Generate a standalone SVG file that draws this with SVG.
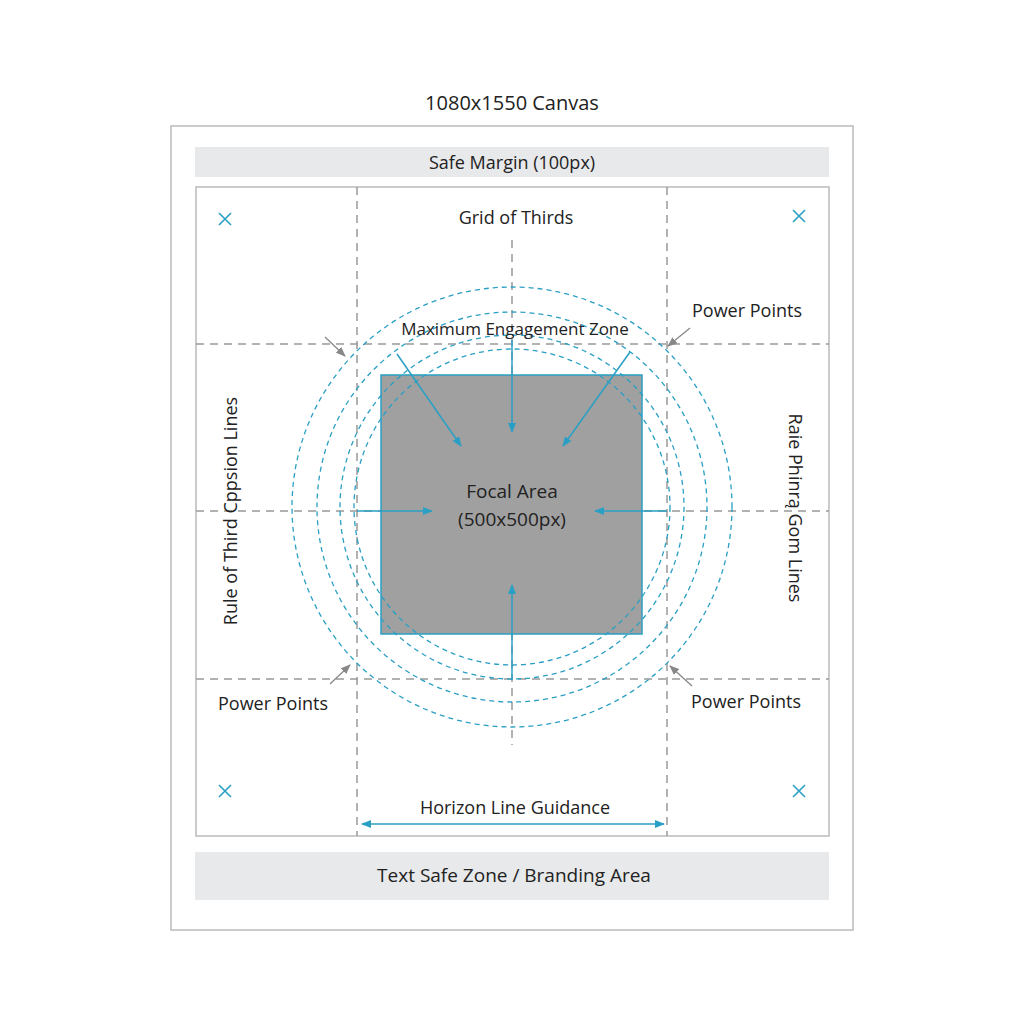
<svg xmlns="http://www.w3.org/2000/svg" width="1024" height="1024" viewBox="0 0 1024 1024">
<style>
text{font-family:"Open Sans","Noto Sans",sans-serif;fill:#222;text-anchor:middle}
.d{stroke:#999;stroke-width:1.5;stroke-dasharray:8 6;fill:none}
.c{stroke:#2a9fc4;stroke-width:1.3;stroke-dasharray:5 4;fill:none}
.b{stroke:#2a9fc4;stroke-width:1.5;fill:none;marker-end:url(#ab)}
.g{stroke:#888;stroke-width:1.3;fill:none;marker-end:url(#ag)}
.x{stroke:#2a9fc4;stroke-width:1.6}
</style>
<defs>
<marker id="ab" markerWidth="10" markerHeight="8" refX="9" refY="4" orient="auto" markerUnits="userSpaceOnUse"><path d="M0,0L10,4L0,8z" fill="#2a9fc4"/></marker>
<marker id="abs" markerWidth="10" markerHeight="8" refX="1" refY="4" orient="auto" markerUnits="userSpaceOnUse"><path d="M10,0L0,4L10,8z" fill="#2a9fc4"/></marker>
<marker id="ag" markerWidth="10" markerHeight="8" refX="9" refY="4" orient="auto" markerUnits="userSpaceOnUse"><path d="M0,0L10,4L0,8z" fill="#888"/></marker>
</defs>
<rect width="1024" height="1024" fill="#fff"/>
<text x="512" y="110" font-size="20">1080x1550 Canvas</text>
<g id="canvas"><rect x="171" y="126" width="682" height="804" fill="none" stroke="#bbb" stroke-width="1.5"/></g>
<g id="safe-margin"><rect x="195" y="147" width="634" height="30" fill="#e8e9ea"/><text x="512" y="169" font-size="18">Safe Margin (100px)</text></g>
<g id="inner"><rect x="196" y="187" width="633" height="649" fill="none" stroke="#bbb" stroke-width="1.5"/></g>
<g id="grid">
<line class="d" x1="357" y1="187" x2="357" y2="836"/><line class="d" x1="667" y1="187" x2="667" y2="836"/>
<line class="d" x1="196" y1="344" x2="829" y2="344"/><line class="d" x1="196" y1="511" x2="829" y2="511"/><line class="d" x1="196" y1="679" x2="829" y2="679"/>
<line class="d" x1="512" y1="240" x2="512" y2="745"/>
<text x="516" y="224" font-size="18">Grid of Thirds</text>
</g>
<g id="focal"><rect x="381" y="375" width="261" height="259" fill="#a0a0a0" stroke="#2a9fc4" stroke-width="1.5"/>
<text x="512" y="498" font-size="19">Focal Area</text><text x="512" y="526" font-size="19">(500x500px)</text></g>
<g id="zone">
<circle class="c" cx="512" cy="507" r="220"/><circle class="c" cx="512" cy="507" r="195"/><circle class="c" cx="512" cy="507" r="172"/><circle class="c" cx="512" cy="507" r="158"/>
<text x="515" y="335" font-size="17">Maximum Engagement Zone</text>
</g>
<g id="connectors">
<line class="b" x1="397" y1="354" x2="461" y2="446"/><line class="b" x1="512" y1="340" x2="512" y2="432"/><line class="b" x1="630" y1="352" x2="563" y2="446"/>
<line class="b" x1="357" y1="511" x2="432" y2="511"/><line class="b" x1="667" y1="511" x2="595" y2="511"/><line class="b" x1="512" y1="680" x2="512" y2="585"/>
<line class="b" x1="362" y1="824" x2="664" y2="824" marker-start="url(#abs)"/>
<line class="g" x1="325" y1="337" x2="345" y2="356"/><line class="g" x1="690" y1="328" x2="668" y2="346"/>
<line class="g" x1="330" y1="684" x2="350" y2="665"/><line class="g" x1="692" y1="686" x2="670" y2="666"/>
</g>
<g id="labels">
<text x="747" y="317" font-size="18">Power Points</text>
<text x="273" y="710" font-size="18">Power Points</text>
<text x="746" y="708" font-size="18">Power Points</text>
<text x="515" y="814" font-size="18">Horizon Line Guidance</text>
<text transform="translate(237,511) rotate(-90)" font-size="18">Rule of Third Cppsion Lines</text>
<text transform="translate(789,508) rotate(90)" font-size="18">Raie Phinrą Gom Lines</text>
</g>
<g id="marks">
<path class="x" d="M219,213l12,12M231,213l-12,12M793,210l12,12M805,210l-12,12M219,785l12,12M231,785l-12,12M793,785l12,12M805,785l-12,12"/>
</g>
<g id="branding"><rect x="195" y="852" width="634" height="48" fill="#e8e9ea"/><text x="514" y="882" font-size="19">Text Safe Zone / Branding Area</text></g>
</svg>
